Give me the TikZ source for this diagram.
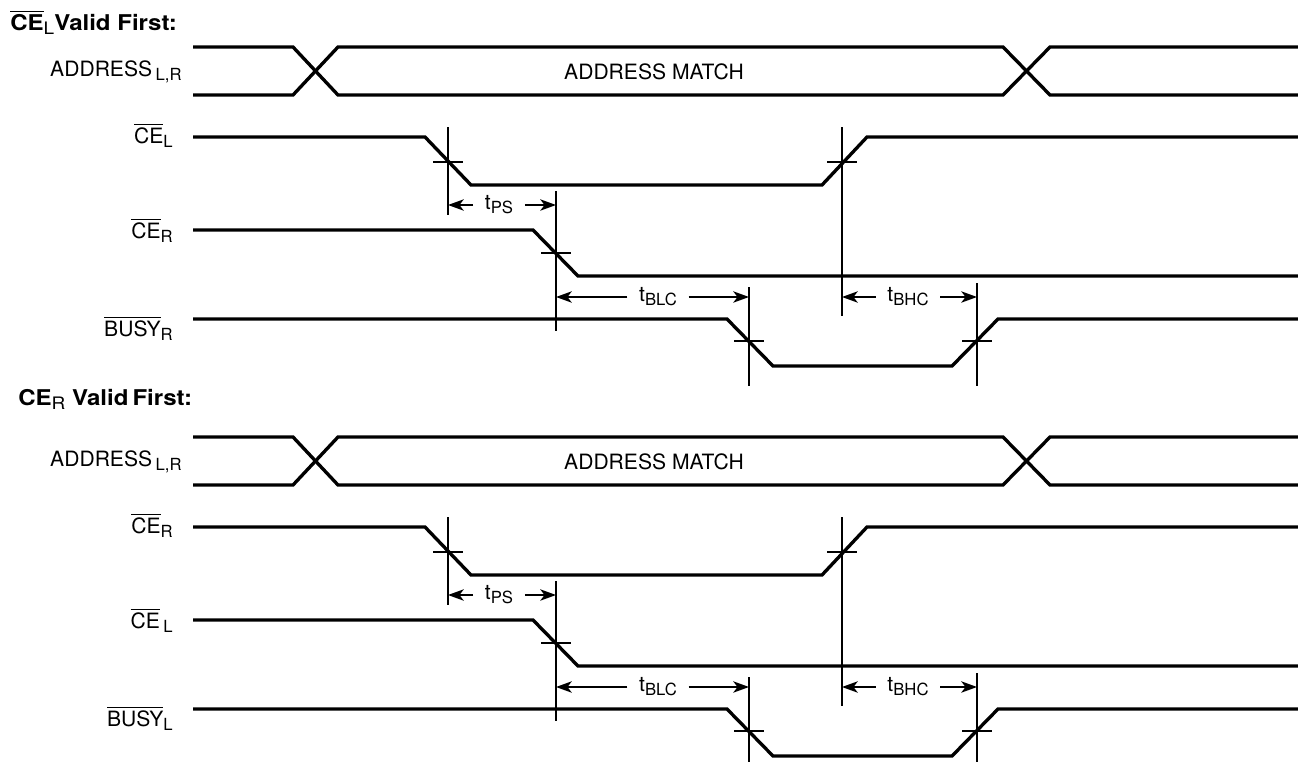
\documentclass[tikz,border=0pt]{standalone}
\usepackage{fontspec}
\setmainfont{TeX Gyre Heros}
\usetikzlibrary{arrows.meta}

\newcommand{\lo}[1]{\raisebox{-2.3pt}{\mdseries\fontsize{9.5}{9.5}\selectfont #1}}
\newcommand{\ovl}[1]{$\overline{\mbox{#1}}$}
\newcommand{\wide}[1]{\scalebox{1.14}[1.03]{#1}}

% one block of waveforms: #1 prefix, #2 vertical offset, #3 #4 #5 signal labels
\newcommand{\timingblock}[5]{%
  \begin{scope}[shift={(0,#2)}]
    \draw[sig] (193,47) -- (293,47) -- (338,95) -- (1003,95) -- (1050,47) -- (1298,47);
    \draw[sig] (193,95) -- (293,95) -- (338,47) -- (1003,47) -- (1050,95) -- (1298,95);
    \node[lbl] (#1addr) at (182,76.5) {ADDRESS\,\lo{L,R}};
    \node[inner sep=0pt] (#1match) at (654,72) {ADDRESS MATCH};
    \draw[sig] (193,137) -- (425,137) -- (471,185) -- (822,185) -- (867,137) -- (1298,137);
    \node[lbl] (#1first) at (173,143) {#3};
    \draw[sig] (193,230) -- (533,230) -- (578,276) -- (1298,276);
    \node[lbl] (#1second) at (173,238) {#4};
    \draw[sig] (193,319) -- (727,319) -- (773,366) -- (952,366) -- (998,319) -- (1298,319);
    \node[lbl] (#1busy) at (173,336) {#5};
    % crossing ticks
    \foreach \x/\y in {448/162,842/162,556/253,749/341,977/341}
      \draw[tick] (\x-15,\y) -- (\x+15,\y);
    % reference lines
    \coordinate (#1r1) at (448,127); \coordinate (#1r1e) at (448,215);
    \coordinate (#1r2) at (556,191); \coordinate (#1r2e) at (556,331);
    \coordinate (#1r3) at (842,127); \coordinate (#1r3e) at (842,316);
    \coordinate (#1r4) at (749,287); \coordinate (#1r4e) at (749,386);
    \coordinate (#1r5) at (977,283); \coordinate (#1r5e) at (977,386);
    \foreach \r in {1,...,5}
      \draw[tick] (#1r\r) -- (#1r\r e);
    % timing parameters
    \node[tlbl] (#1ps) at (499,205) {t\lo{PS}};
    \draw[dim] (#1ps.west) -- (#1ps.west -| #1r1);
    \draw[dim] (#1ps.east) -- (#1ps.east -| #1r2);
    \node[tlbl] (#1blc) at (658,297) {t\lo{BLC}};
    \draw[dim] (#1blc.west) -- (#1blc.west -| #1r2);
    \draw[dim] (#1blc.east) -- (#1blc.east -| #1r4);
    \node[tlbl] (#1bhc) at (908,297) {t\lo{BHC}};
    \draw[dim] (#1bhc.west) -- (#1bhc.west -| #1r3);
    \draw[dim] (#1bhc.east) -- (#1bhc.east -| #1r5);
  \end{scope}}

\begin{document}
\begin{tikzpicture}[x=0.02cm, y=-0.02cm,
    every node/.style={font=\fontsize{12}{14}\selectfont},
    sig/.style={line width=1.9pt},
    tick/.style={line width=0.75pt},
    dim/.style={line width=0.8pt, -{Stealth[length=9pt,width=6.5pt,inset=2.5pt]}},
    lbl/.style={anchor=base east, inner sep=0pt},
    tlbl/.style={inner xsep=6.5pt, inner ysep=0pt},
    title/.style={anchor=base west, inner sep=0pt, font=\fontsize{12}{14}\selectfont\bfseries}]
  \useasboundingbox (0,0) rectangle (1298,761);
  \node[title] (head1) at (10,30) {\wide{\ovl{CE}\lo{L}Valid First:}};
  \timingblock{a}{0}{\ovl{CE}\lo{L}}{\ovl{CE}\lo{R}}{\ovl{BUSY}\lo{R}}
  \node[title] (head2) at (18,405) {\wide{CE\lo{R} Valid\,First:}};
  \timingblock{b}{390}{\ovl{CE}\lo{R}}{\ovl{CE}\,\lo{L}}{\ovl{BUSY}\lo{L}}
\end{tikzpicture}
\end{document}
